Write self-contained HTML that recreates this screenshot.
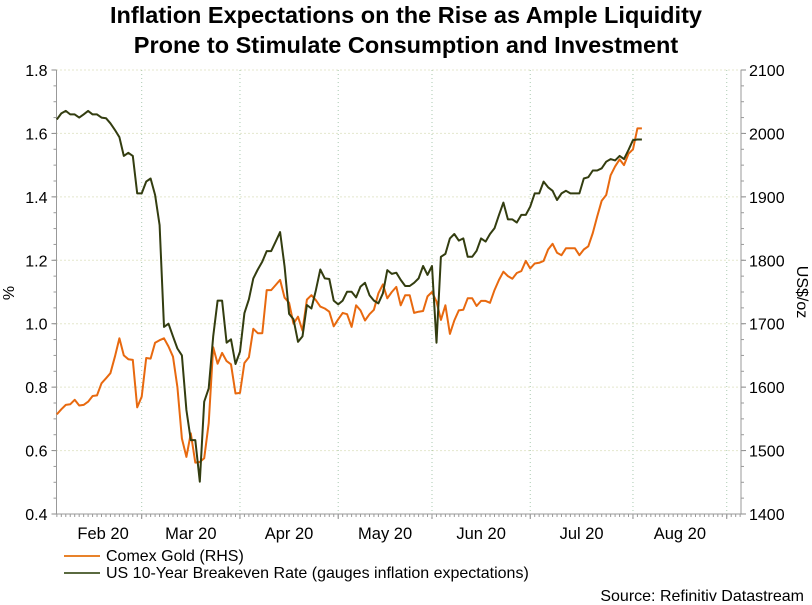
<!DOCTYPE html>
<html><head><meta charset="utf-8"><style>
body{margin:0;background:#fff;}
svg{display:block;font-family:"Liberation Sans",Arial,sans-serif;}
</style></head><body>
<svg id="chart" width="812" height="605" viewBox="0 0 812 605">
<text x="406" y="23" text-anchor="middle" font-size="23.5" font-weight="bold" fill="#000">Inflation Expectations on the Rise as Ample Liquidity</text>
<text x="406" y="53" text-anchor="middle" font-size="23.5" font-weight="bold" fill="#000">Prone to Stimulate Consumption and Investment</text>
<g id="grid"></g>
<g id="axes"></g>
<g id="series"></g>
<text transform="translate(14,293) rotate(-90)" text-anchor="middle" font-size="16">%</text>
<text transform="translate(797,292) rotate(90)" text-anchor="middle" font-size="16">US$/oz</text>
<g>
<line x1="64" y1="556" x2="100" y2="556" stroke="#e8822a" stroke-width="2"/>
<text x="106" y="561" font-size="16">Comex Gold (RHS)</text>
<line x1="64" y1="573" x2="100" y2="573" stroke="#5a6a40" stroke-width="2"/>
<text x="106" y="578" font-size="16">US 10-Year Breakeven Rate (gauges inflation expectations)</text>
</g>
<text x="804" y="601" text-anchor="end" font-size="16">Source: Refinitiv Datastream</text>
</svg>
<script>
// Business-day index: 0 = Mar 2 2020; series start at index -19 (Feb 4)
const startIndex = -19;
const leftTicks = [0.4,0.6,0.8,1.0,1.2,1.4,1.6,1.8];
const leftTickLabels = ["0.4","0.6","0.8","1.0","1.2","1.4","1.6","1.8"];
const rightTicks = [1400,1500,1600,1700,1800,1900,2000,2100];
const monthLabels = ["Feb 20","Mar 20","Apr 20","May 20","Jun 20","Jul 20","Aug 20"];
const monthStartIdx = [-20,0,22,44,65,87,110,131];
const breakeven = [1.644,1.663,1.671,1.66,1.66,1.65,1.66,1.671,1.66,1.66,1.65,1.648,1.632,1.611,1.588,1.529,1.539,1.529,1.411,1.411,1.448,1.458,1.406,1.311,0.99,1.0,0.96,0.922,0.90,0.728,0.633,0.633,0.502,0.754,0.796,0.96,1.073,1.073,0.94,0.951,0.873,0.912,1.033,1.077,1.143,1.171,1.196,1.229,1.229,1.259,1.289,1.18,1.031,1.014,0.943,0.96,1.059,1.048,1.106,1.171,1.143,1.141,1.073,1.061,1.073,1.101,1.101,1.083,1.117,
1.129,1.09,1.073,1.064,1.096,1.169,1.157,1.161,1.138,1.119,1.119,1.129,1.143,1.182,1.154,1.182,0.94,1.211,1.22,1.269,1.283,1.262,1.269,1.211,1.211,1.23,1.269,1.259,1.283,1.301,1.343,1.382,1.329,1.329,1.319,1.343,1.343,1.369,1.411,1.411,1.448,1.43,1.419,1.39,1.411,1.419,1.411,1.411,1.411,1.458,1.462,1.483,1.483,1.49,1.511,1.519,1.515,1.529,1.519,1.548,1.579,1.581,1.581];
const gold = [1557,1565,1572,1573,1580,1571,1572,1577,1586,1587,1606,1614,1622,1648,1677,1650,1644,1643,1568,1585,1646,1645,1670,1674,1677,1664,1648,1600,1519,1490,1527,1481,1482,1488,1543,1663,1637,1654,1641,1636,1590,1591,1638,1647,1692,1685,1685,1753,1753,1761,1769,1741,1733,1700,1711,1689,1738,1745,1737,1727,1724,1719,1696,1707,1717,1715,1695,1729,1721,
1705,1715,1722,1748,1762,1740,1750,1758,1729,1745,1745,1717,1719,1720,1743,1750,1735,1706,1729,1684,1705,1721,1722,1740,1740,1728,1736,1736,1733,1753,1769,1782,1775,1771,1780,1783,1799,1787,1795,1796,1799,1817,1826,1812,1808,1819,1819,1819,1808,1817,1822,1843,1869,1894,1903,1934,1948,1959,1950,1968,1975,2008,2008];

const L=56.5, R=741, T=70, B=514;
const xS = i => 141.7 + 4.466*i;
const yL = v => B - (v-0.4)/1.4*(B-T);
const yR = v => B - (v-1400)/700*(B-T);
const NS="http://www.w3.org/2000/svg";
function mk(tag, attrs, parent){const e=document.createElementNS(NS,tag);for(const k in attrs)e.setAttribute(k,attrs[k]);parent.appendChild(e);return e;}
const gridG=document.getElementById('grid'), axesG=document.getElementById('axes'), seriesG=document.getElementById('series');

leftTicks.forEach((t,i)=>{
  if(i>0){const g=mk('line',{x1:L,x2:R,y1:yL(t),y2:yL(t),stroke:'#c9cf9a','stroke-dasharray':'1,3','stroke-width':1},gridG);
  
  }
  const tk=mk('line',{x1:L-5,x2:L,y1:yL(t),y2:yL(t),stroke:'#888'},axesG);
  
  
  const tx=mk('text',{x:L-9,y:yL(t)+6,'text-anchor':'end','font-size':16},axesG);
  tx.textContent=leftTickLabels[i];
  
  
});
for(let v=0.45;v<1.8;v+=0.05){const m=mk('line',{x1:L-3,x2:L,y1:yL(v),y2:yL(v),stroke:'#999'},axesG);
  
  }
rightTicks.forEach(t=>{
  const tk=mk('line',{x1:R,x2:R+5,y1:yR(t),y2:yR(t),stroke:'#888'},axesG);
  
  
  const tx=mk('text',{x:R+8,y:yR(t)+6,'font-size':16},axesG);
  tx.textContent=String(t);
  
  
});
for(let v=1425;v<2100;v+=25){const m=mk('line',{x1:R,x2:R+3,y1:yR(v),y2:yR(v),stroke:'#999'},axesG);
  
  }
monthStartIdx.forEach((s,i)=>{
  if(i>0){const g=mk('line',{x1:xS(s),x2:xS(s),y1:T,y2:B,stroke:'#a9c9b0','stroke-dasharray':'1,3'},gridG);
  
  
  const tk=mk('line',{x1:xS(s),x2:xS(s),y1:B,y2:B+5,stroke:'#888'},axesG);
  
  }
  if(i<monthLabels.length){
    const a=Math.max(xS(s),L), b=Math.min(xS(monthStartIdx[i+1]),R);
    const tx=mk('text',{x:(a+b)/2+(i==0?4:0),y:B+25,'text-anchor':'middle','font-size':16.5},axesG);
    tx.textContent=monthLabels[i];
    
    
  }
});
for(let i=-19;i<=134;i++){const m=mk('line',{x1:xS(i),x2:xS(i),y1:B,y2:B+3,stroke:'#999'},axesG);
  
  }
const topGrid=mk('line',{x1:L,x2:R,y1:T,y2:T,stroke:'#c9cf9a','stroke-dasharray':'1,3'},gridG);


const la=mk('line',{x1:L,x2:L,y1:T,y2:B,stroke:'#999'},axesG);


const ra=mk('line',{x1:R,x2:R,y1:T,y2:B,stroke:'#999'},axesG);


const ba=mk('line',{x1:L,x2:R,y1:B,y2:B,stroke:'#999'},axesG);



const pb=breakeven.map((v,i)=>xS(startIndex+i).toFixed(1)+','+yL(v).toFixed(1)).join(' ');
const pg=gold.map((v,i)=>xS(startIndex+i).toFixed(1)+','+yR(v).toFixed(1)).join(' ');
const lg=mk('polyline',{points:pg,fill:'none',stroke:'#e8690f','stroke-width':2,'stroke-linejoin':'round'},seriesG);


const lb=mk('polyline',{points:pb,fill:'none',stroke:'#333d10','stroke-width':2,'stroke-linejoin':'round'},seriesG);


</script>
</body></html>
